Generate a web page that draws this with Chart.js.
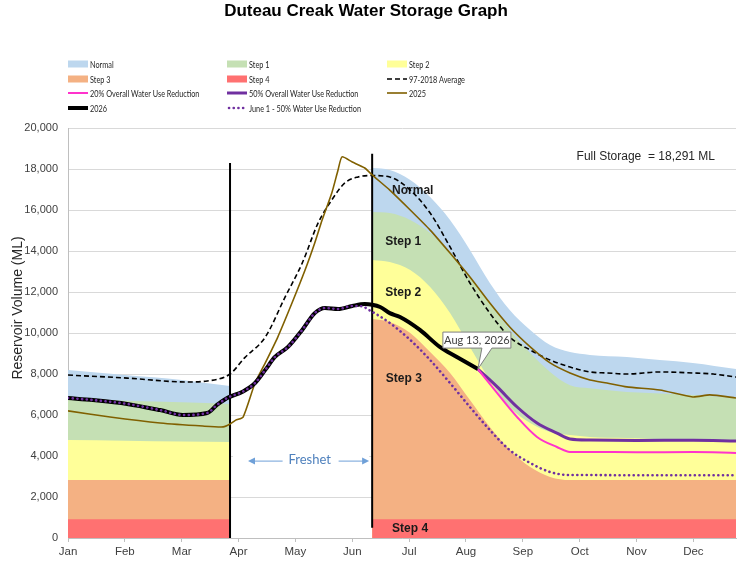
<!DOCTYPE html>
<html>
<head>
<meta charset="utf-8">
<title>Duteau Creak Water Storage Graph</title>
<script src="https://cdn.jsdelivr.net/npm/chart.js@4.4.1/dist/chart.umd.min.js"></script>
<style>
  html, body { margin: 0; padding: 0; background: #fff; }
  canvas { display: block; }
</style>
</head>
<body>
<canvas id="storage" width="745" height="567"></canvas>
<script>
// x values are months counted from Jan 1 (0 = Jan, 1 = Feb ... 11 = Dec)
var monthLabels = ['Jan', 'Feb', 'Mar', 'Apr', 'May', 'Jun', 'Jul', 'Aug', 'Sep', 'Oct', 'Nov', 'Dec'];

// operating zones: top edge of each band, blank (null) during freshet
var zoneX     = [0, 1, 2, 2.85, 4, 5.35, 5.66, 6.02, 6.37, 6.72, 7.07, 7.42, 7.77, 8.13, 8.48, 8.83, 9.18, 9.83, 10.41, 10.99, 11.75];
var normalTop = [8200, 7950, 7710, 7410, null, 18050, 17950, 17460, 16630, 15510, 14050, 12440, 11120, 10150, 9410, 9070, 8930, 8830, 8680, 8540, 8240];
var step1Top  = [6780, 6700, 6620, 6540, null, 15900, 15850, 15510, 14880, 13900, 12730, 11460, 10150, 9020, 8100, 7450, 7300, 7120, 7050, 6980, 6830];
var step2Top  = [4780, 4750, 4710, 4680, null, 13560, 13460, 13070, 12240, 10970, 9320, 7710, 6390, 5610, 5170, 5020, 4930, 4880, 4820, 4750, 4680];
var step3Top  = [2830, 2830, 2830, 2830, null, 10680, 10540, 10000, 9070, 8050, 6730, 5410, 4290, 3460, 2980, 2830, 2830, 2830, 2830, 2830, 2830];
var step4Top  = [920, 920, 920, 920, null, 920, 920, 920, 920, 920, 920, 920, 920, 920, 920, 920, 920, 920, 920, 920, 920];

// 97-2018 average
var avgX = [0, 1.04, 2.09, 2.45, 2.85, 3.11, 3.47, 3.82, 4.12, 4.40, 4.64, 4.87, 5.10, 5.35, 5.66, 6.02, 6.37, 6.72, 7.07, 7.42, 7.77, 8.13, 8.48, 8.83, 9.18, 9.48, 9.83, 10.41, 10.99, 11.35, 11.75];
var avgY = [7950, 7800, 7610, 7660, 8000, 8800, 9800, 11760, 13410, 15370, 16490, 17320, 17610, 17680, 17610, 16970, 15850, 14200, 12440, 10970, 9800, 9170, 8680, 8340, 8100, 8050, 8000, 8100, 8050, 8000, 7850];

// 2025
var y25X = [0, 0.74, 1.62, 2.37, 2.73, 2.85, 2.95, 3.08, 3.29, 3.47, 3.69, 3.94, 4.17, 4.34, 4.47, 4.64, 4.75, 4.82, 5.00, 5.22, 5.35, 5.66, 6.02, 6.37, 6.72, 7.07, 7.42, 7.77, 8.13, 8.48, 8.83, 9.18, 9.48, 9.83, 10.41, 10.99, 11.29, 11.75];
var y25Y = [6200, 5900, 5610, 5460, 5420, 5560, 5750, 5900, 7560, 8540, 9800, 11460, 13070, 14390, 15510, 16830, 17950, 18590, 18340, 18050, 17710, 16970, 16000, 15020, 13900, 12730, 11460, 10290, 9320, 8540, 8050, 7710, 7560, 7370, 7220, 6880, 6980, 6830];

// 2026 (to Aug 13)
var y26X = [0, 0.44, 1.04, 1.62, 2.02, 2.45, 2.62, 2.80, 3.08, 3.29, 3.47, 3.64, 3.87, 4.12, 4.34, 4.52, 4.75, 5.00, 5.22, 5.35, 5.49, 5.66, 5.84, 6.19, 6.54, 6.84, 7.21];
var y26Y = [6830, 6730, 6540, 6240, 6000, 6100, 6490, 6830, 7150, 7560, 8200, 8830, 9320, 10150, 10970, 11220, 11170, 11320, 11410, 11380, 11270, 10970, 10780, 10150, 9320, 8830, 8240];

// June 1 - 50% water use reduction
var june1X = [0, 0.44, 1.04, 1.62, 2.02, 2.45, 2.62, 2.80, 3.08, 3.29, 3.47, 3.64, 3.87, 4.12, 4.34, 4.52, 4.75, 5.00, 5.17, 5.31, 5.66, 6.02, 6.37, 6.72, 7.07, 7.42, 7.77, 8.13, 8.48, 8.83, 9.18, 10, 11, 11.75];
var june1Y = [6830, 6730, 6540, 6240, 6000, 6100, 6490, 6830, 7150, 7560, 8200, 8830, 9320, 10150, 10970, 11220, 11170, 11320, 11300, 11100, 10490, 9660, 8680, 7560, 6390, 5270, 4290, 3660, 3220, 3070, 3070, 3060, 3060, 3060];

// projections from Aug 13
var cutX  = [7.21, 7.55, 7.90, 8.25, 8.60, 8.83, 9.18, 10, 11, 11.75];
var cut50 = [8240, 7370, 6390, 5610, 5120, 4830, 4780, 4760, 4770, 4730];
var cut20 = [8240, 7070, 5900, 4930, 4440, 4200, 4200, 4180, 4190, 4150];

// freshet start / end markers
var markerX   = [2.85, 5.35];
var markerLow = [0, 500];
var markerTop = [18291, 18750];

function pts(xs, ys) {
  return xs.map(function(x, i) { return {x: x, y: ys[i]}; });
}

function zone(label, color, top, order) {
  return {
    label: label, data: pts(zoneX, top), fill: 'origin',
    backgroundColor: color, borderColor: 'transparent', borderWidth: 0,
    cubicInterpolationMode: 'monotone', order: order
  };
}

function marker(i) {
  return {
    label: '', data: [{x: markerX[i], y: markerLow[i]}, {x: markerX[i], y: markerTop[i]}],
    borderColor: '#000', borderWidth: 2, order: 10
  };
}

var datasets = [
  zone('Normal', '#bdd7ee', normalTop, 20),
  zone('Step 1', '#c5e0b4', step1Top, 19),
  zone('Step 2', '#ffff99', step2Top, 18),
  zone('Step 3', '#f4b183', step3Top, 17),
  zone('Step 4', '#ff7171', step4Top, 16),
  { label: '97-2018 Average', data: pts(avgX, avgY), borderColor: '#000', borderWidth: 1.6,
    borderDash: [5, 3], cubicInterpolationMode: 'monotone', order: 5 },
  { label: '20% Overall Water Use Reduction', data: pts(cutX, cut20), borderColor: '#ff33cc',
    borderWidth: 2, cubicInterpolationMode: 'monotone', order: 3 },
  { label: '50% Overall Water Use Reduction', data: pts(cutX, cut50), borderColor: '#7030a0',
    borderWidth: 3, cubicInterpolationMode: 'monotone', order: 3 },
  { label: '2025', data: pts(y25X, y25Y), borderColor: '#806000', borderWidth: 1.6, tension: 0.2, order: 4 },
  { label: '2026', data: pts(y26X, y26Y), borderColor: '#000', borderWidth: 4,
    borderJoinStyle: 'round', cubicInterpolationMode: 'monotone', order: 2 },
  { label: 'June 1 - 50% Water Use Reduction', data: pts(june1X, june1Y), borderColor: '#7030a0',
    borderWidth: 2.6, borderDash: [0.1, 4.6], borderCapStyle: 'round',
    cubicInterpolationMode: 'monotone', order: 1 },
  marker(0),
  marker(1)
];

var arial = '"Liberation Sans", Arial, sans-serif';
var calibri = 'Lato, "Open Sans", sans-serif';

function arrow(ctx, x1, x2, y) {
  var dir = x2 > x1 ? 1 : -1;
  ctx.beginPath();
  ctx.moveTo(x1, y);
  ctx.lineTo(x2 - dir * 5, y);
  ctx.stroke();
  ctx.beginPath();
  ctx.moveTo(x2, y);
  ctx.lineTo(x2 - dir * 7, y - 3.5);
  ctx.lineTo(x2 - dir * 7, y + 3.5);
  ctx.closePath();
  ctx.fill();
}

var extras = {
  id: 'extras',
  // zone names and freshet note sit on the bands, under the lines
  afterDatasetDraw: function(chart, args) {
    if (args.index !== 4) return;
    var ctx = chart.ctx, sx = chart.scales.x, sy = chart.scales.y;
    ctx.save();
    ctx.font = 'bold 12px ' + arial;
    ctx.fillStyle = '#1a1a1a';
    ctx.textBaseline = 'middle';
    ctx.textAlign = 'left';
    ctx.fillText('Normal', sx.getPixelForValue(5.70), sy.getPixelForValue(16950));
    ctx.fillText('Step 1', sx.getPixelForValue(5.58), sy.getPixelForValue(14440));
    ctx.fillText('Step 2', sx.getPixelForValue(5.58), sy.getPixelForValue(11950));
    ctx.fillText('Step 3', sx.getPixelForValue(5.59), sy.getPixelForValue(7760));
    ctx.fillText('Step 4', sx.getPixelForValue(5.70), sy.getPixelForValue(430));

    var left = sx.getPixelForValue(markerX[0]), right = sx.getPixelForValue(markerX[1]);
    var mid = sx.getPixelForValue(4.25), fy = sy.getPixelForValue(3800);
    ctx.fillStyle = '#fff';
    ctx.fillRect(left + 3, fy - 12, right - left - 6, 24);
    ctx.fillStyle = '#4f81bd';
    ctx.strokeStyle = '#6fa0d8';
    ctx.lineWidth = 1;
    ctx.textAlign = 'center';
    ctx.font = '13px ' + calibri;
    ctx.fillText('Freshet', mid, fy);
    ctx.fillStyle = '#6fa0d8';
    arrow(ctx, mid - 27, left + 18, fy + 1);
    arrow(ctx, mid + 29, right - 3, fy + 1);
    ctx.restore();
  },
  afterDraw: function(chart) {
    var ctx = chart.ctx, area = chart.chartArea, sx = chart.scales.x, sy = chart.scales.y;
    ctx.save();
    ctx.textBaseline = 'middle';

    // title
    ctx.fillStyle = '#000';
    ctx.textAlign = 'center';
    ctx.font = 'bold 17px ' + arial;
    ctx.fillText('Duteau Creak Water Storage Graph', 366, 11);

    // y axis title
    ctx.save();
    ctx.translate(18, area.top + 180);
    ctx.rotate(-Math.PI / 2);
    ctx.font = '14px ' + arial;
    ctx.fillStyle = '#262626';
    ctx.fillText('Reservoir Volume (ML)', 0, 0);
    ctx.restore();

    // full storage note
    ctx.textAlign = 'right';
    ctx.font = '12px ' + arial;
    ctx.fillStyle = '#262626';
    ctx.fillText('Full Storage  = 18,291 ML', area.right - 21, sy.getPixelForValue(18600));

    // callout at the last 2026 reading
    var px = sx.getPixelForValue(y26X[y26X.length - 1]);
    var py = sy.getPixelForValue(y26Y[y26Y.length - 1]);
    var bx = px - 35, by = py - 37, bw = 68, bh = 16;
    ctx.beginPath();
    ctx.moveTo(bx, by);
    ctx.lineTo(bx + bw, by);
    ctx.lineTo(bx + bw, by + bh);
    ctx.lineTo(px + 14, by + bh);
    ctx.lineTo(px, py);
    ctx.lineTo(px + 4, by + bh);
    ctx.lineTo(bx, by + bh);
    ctx.closePath();
    ctx.fillStyle = '#fff';
    ctx.fill();
    ctx.strokeStyle = '#7f7f7f';
    ctx.lineWidth = 1;
    ctx.stroke();
    ctx.fillStyle = '#404040';
    ctx.textAlign = 'center';
    ctx.font = '11px ' + calibri;
    ctx.fillText('Aug 13, 2026', bx + bw / 2, by + bh / 2 + 0.5);

    // legend, three columns; text squeezed to the narrow face of the original
    var cols = [68, 227, 387], rows = [64, 79, 93, 108];
    ctx.textAlign = 'left';
    ctx.font = '10px ' + calibri;
    var n = 0;
    chart.data.datasets.forEach(function(ds) {
      if (!ds.label) return;
      var x = cols[n % 3], y = rows[Math.floor(n / 3)];
      n++;
      if (ds.fill) {
        ctx.fillStyle = ds.backgroundColor;
        ctx.fillRect(x, y - 3.5, 20, 7);
      } else {
        ctx.save();
        ctx.strokeStyle = ds.borderColor;
        ctx.lineWidth = Math.min(ds.borderWidth, 4);
        ctx.lineCap = ds.borderCapStyle || 'butt';
        ctx.setLineDash(ds.borderDash || []);
        ctx.beginPath();
        ctx.moveTo(x + (ds.borderCapStyle ? 2 : 0), y);
        ctx.lineTo(x + 20, y);
        ctx.stroke();
        ctx.restore();
      }
      ctx.save();
      ctx.translate(x + 22, y + 0.5);
      ctx.scale(0.73, 1);
      ctx.fillStyle = '#262626';
      ctx.fillText(ds.label, 0, 0);
      ctx.restore();
    });
    ctx.restore();
  }
};

var storageChart = new Chart(document.getElementById('storage'), {
  type: 'line',
  data: { datasets: datasets },
  plugins: [extras],
  options: {
    responsive: false,
    animation: false,
    events: [],
    layout: { padding: { top: 128, right: 9, left: 0, bottom: 0 } },
    elements: { point: { radius: 0 } },
    plugins: { legend: { display: false }, title: { display: false }, tooltip: { enabled: false } },
    scales: {
      x: {
        type: 'linear', min: 0, max: 11.75,
        afterBuildTicks: function(s) { s.ticks = monthLabels.map(function(m, i) { return {value: i}; }); },
        afterFit: function(s) { s.height = 29; },
        ticks: {
          callback: function(v) { return monthLabels[v]; },
          autoSkip: false, maxRotation: 0, padding: 3,
          color: '#404040', font: { family: arial, size: 11.5 }
        },
        grid: { drawOnChartArea: false, drawTicks: true, tickLength: 4, color: '#bfbfbf' },
        border: { color: '#bfbfbf' }
      },
      y: {
        min: 0, max: 20000,
        afterFit: function(s) { s.width = 68; },
        ticks: {
          stepSize: 2000, padding: 10,
          callback: function(v) { return v.toLocaleString('en-US'); },
          color: '#404040', font: { family: arial, size: 11 }
        },
        grid: { color: '#d9d9d9', drawTicks: false },
        border: { color: '#bfbfbf' }
      }
    }
  }
});
</script>
</body>
</html>
